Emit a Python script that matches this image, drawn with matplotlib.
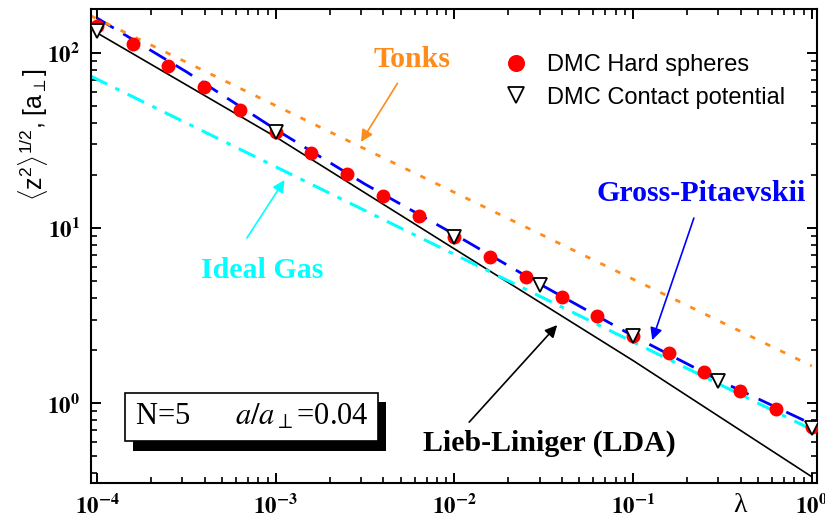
import matplotlib
matplotlib.use("Agg")
import matplotlib.pyplot as plt
import matplotlib.patheffects as pe

plt.rcParams['mathtext.fontset'] = 'custom'
plt.rcParams['mathtext.rm'] = 'Liberation Sans'
plt.rcParams['mathtext.it'] = 'Liberation Sans'
plt.rcParams['mathtext.bf'] = 'Liberation Sans:bold'

# DMC results, hard spheres
lam_hs = [1e-4, 1.58e-4, 2.51e-4, 3.98e-4, 6.31e-4, 1e-3, 1.58e-3, 2.51e-3,
          3.98e-3, 6.31e-3, 1e-2, 1.58e-2, 2.51e-2, 3.98e-2, 6.31e-2, 0.1,
          0.158, 0.251, 0.398, 0.631, 1.0]
z_hs = [142, 112.5, 84.3, 64.2, 47.2, 35.3, 26.9, 20.4, 15.3, 11.7, 8.9,
        6.80, 5.27, 4.05, 3.14, 2.43, 1.93, 1.50, 1.18, 0.92, 0.73]

# DMC results, contact potential
lam_cp = [1e-4, 1e-3, 1e-2, 3e-2, 0.1, 0.3, 1.0]
z_cp = [133, 35.5, 8.9, 4.72, 2.41, 1.34, 0.72]

# mean-field and limiting curves
lam_gp = [1e-4, 3.16e-4, 1e-3, 3.16e-3, 1e-2, 3.16e-2, 0.1, 0.316, 1.0]
z_gp = [158, 78, 36.5, 17.8, 9.2, 4.65, 2.42, 1.32, 0.76]

lam_lda = [1e-4, 1e-3, 1e-2, 0.1, 1.0]
z_lda = [130, 33.1, 7.6, 1.75, 0.38]

lam_tonks = [9.2e-5, 1.0]
z_tonks = [163, 1.63]

lam_ideal = [9.2e-5, 1.0]
z_ideal = [73.7, 0.707]

xticks = [1e-4, 1e-3, 1e-2, 1e-1, 1.0]
xticklabels = [r'$\mathbf{10^{-4}}$', r'$\mathbf{10^{-3}}$', r'$\mathbf{10^{-2}}$',
               r'$\mathbf{10^{-1}}$', r'$\mathbf{10^{0}}$']
yticks = [1.0, 10.0, 100.0]
yticklabels = [r'$\mathbf{10^{0}}$', r'$\mathbf{10^{1}}$', r'$\mathbf{10^{2}}$']

orange = '#ff8c1a'
serif = 'Liberation Serif'
sans = 'Liberation Sans'

fig = plt.figure(figsize=(8.25, 5.23), dpi=100)
ax = fig.add_axes([0.1103, 0.0765, 0.88, 0.9063])
ax.set_xscale('log')
ax.set_yscale('log')

ax.plot(lam_lda, z_lda, color='black', lw=1.2, zorder=2)
ax.plot(lam_gp, z_gp, color='blue', lw=2.0, dashes=(7, 4), zorder=2)
ax.plot(lam_ideal, z_ideal, color='cyan', lw=2.2, dashes=(6, 3, 1.5, 3), zorder=2)
ax.plot(lam_tonks, z_tonks, color=orange, lw=2.0, dashes=(2, 4), zorder=2)

ax.plot(lam_hs, z_hs, 'o', color='red', ms=9, mec='red', zorder=3,
        label='DMC Hard spheres')
ax.plot(lam_cp, z_cp, 'v', mfc='white', mec='black', mew=1.3, ms=9.5, zorder=4,
        label='DMC Contact potential')

ax.set_xlim(9.25e-5, 1.07)
ax.set_ylim(0.35, 178)

ax.set_xticks(xticks, xticklabels, math_fontfamily='stix', fontsize=16.5)
ax.set_yticks(yticks, yticklabels, math_fontfamily='stix', fontsize=16.5)
ax.tick_params(which='both', direction='in', top=True, right=True)
ax.tick_params(which='major', length=7.5, width=1.4, pad=8)
ax.tick_params(which='minor', length=4, width=1.2)
for s in ax.spines.values():
    s.set_linewidth(1.5)

# curve labels with arrows
ax.text(5.8e-3, 92, 'Tonks', color=orange, fontsize=21.5, fontweight='bold',
        family=serif, ha='center', va='center')
ax.annotate('', xy=(3.0e-3, 31), xytext=(4.8e-3, 67),
            arrowprops=dict(arrowstyle='-|>', color=orange, lw=1.2,
                            mutation_scale=18, shrinkA=0, shrinkB=0))

ax.text(0.24, 15.8, 'Gross-Pitaevskii', color='blue', fontsize=21.5,
        fontweight='bold', family=serif, ha='center', va='center')
ax.annotate('', xy=(0.128, 2.29), xytext=(0.219, 11.4),
            arrowprops=dict(arrowstyle='-|>', color='blue', lw=1.2,
                            mutation_scale=18, shrinkA=0, shrinkB=0))

ax.text(8.35e-4, 5.75, 'Ideal Gas', color='cyan', fontsize=21.5,
        fontweight='bold', family=serif, ha='center', va='center')
ax.annotate('', xy=(1.12e-3, 18.8), xytext=(6.9e-4, 8.77),
            arrowprops=dict(arrowstyle='-|>', color='cyan', lw=1.2,
                            mutation_scale=18, shrinkA=0, shrinkB=0))

ax.text(0.034, 0.59, 'Lieb-Liniger (LDA)', color='black', fontsize=21.5,
        fontweight='bold', family=serif, ha='center', va='center')
ax.annotate('', xy=(0.0376, 2.79), xytext=(0.0121, 0.779),
            arrowprops=dict(arrowstyle='-|>', color='black', lw=1.2,
                            mutation_scale=18, shrinkA=0, shrinkB=0))

# parameter box with drop shadow
t = ax.text(0.221, 0.139, r'N=5      $\it{a/a}_{\perp}$=0.04', transform=ax.transAxes,
            fontsize=22, family=serif, math_fontfamily='stix',
            ha='center', va='center',
            bbox=dict(boxstyle='square,pad=0.32', fc='white', ec='black', lw=1.2))
t.get_bbox_patch().set_path_effects(
    [pe.withSimplePatchShadow(offset=(6, -6.5), shadow_rgbFace='black', alpha=1)])

ax.legend(loc='upper left', bbox_to_anchor=(0.569, 0.905), frameon=False,
          prop={'family': sans, 'size': 17}, handlelength=1.0,
          handletextpad=0.8, borderaxespad=0, borderpad=0,
          labelspacing=0.45, markerscale=1.25)

ax.text(-0.08, 0.736, r'$\langle\mathrm{z}^{2}\rangle^{1/2}$, [$\mathrm{a}_{\perp}$]',
        transform=ax.transAxes, rotation=90, ha='center', va='center',
        fontsize=18, family=sans)
ax.text(0.894, -0.0485, 'λ', transform=ax.transAxes, ha='center', va='center',
        fontsize=20, family=serif)

fig.savefig('out.png', dpi=100)
